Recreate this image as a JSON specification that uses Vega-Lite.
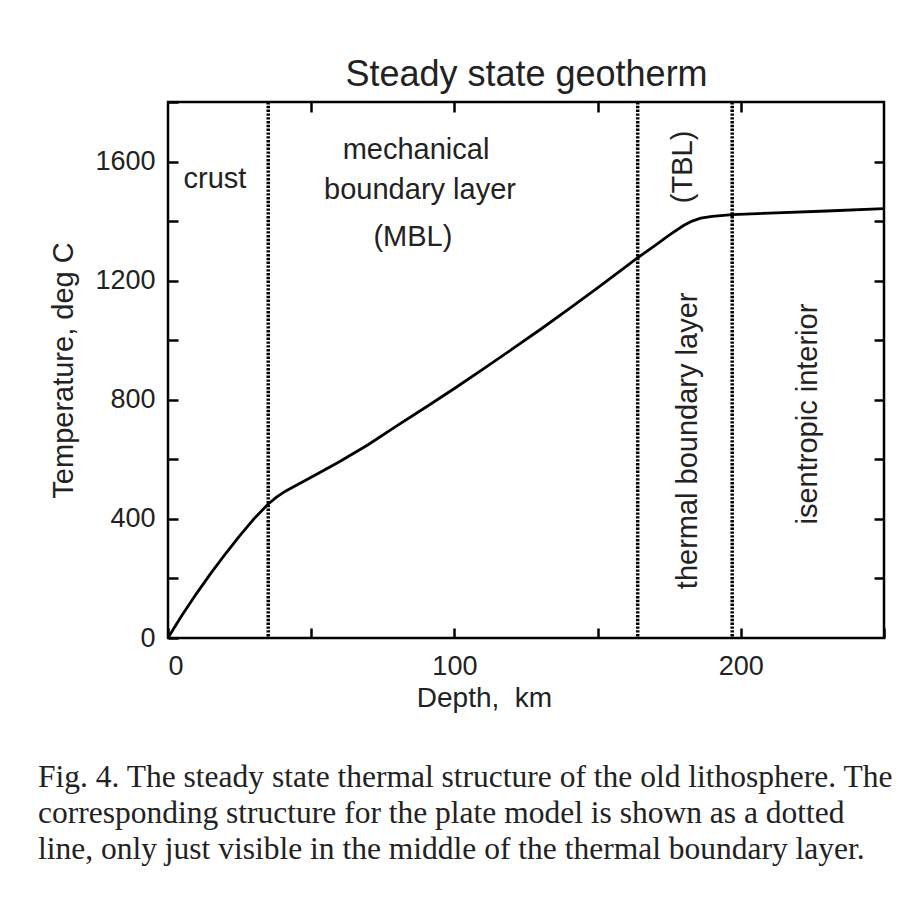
{
  "$schema": "https://vega.github.io/schema/vega-lite/v6.json",
  "width": 716,
  "height": 536,
  "autosize": {"type": "none"},
  "padding": {"left": 168, "top": 102, "right": 19, "bottom": 268},
  "background": "white",
  "config": {
    "view": {"stroke": "black", "strokeWidth": 2.5},
    "font": "Liberation Sans",
    "axis": {"grid": false, "domain": false, "tickColor": "black", "tickWidth": 2.5, "tickSize": -10, "labelColor": "#222", "labelFontSize": 27, "titleColor": "#222", "titleFontWeight": "normal", "labelFont": "Liberation Sans", "titleFont": "Liberation Sans"}
  },
  "title": {
    "text": ["Fig. 4. The steady state thermal structure of the old lithosphere. The", "corresponding structure for the plate model is shown as a dotted", "line, only just visible in the middle of the thermal boundary layer."],
    "orient": "bottom",
    "anchor": "start",
    "frame": "group",
    "font": "Liberation Serif",
    "fontSize": 31.5,
    "fontWeight": "normal",
    "color": "#222",
    "lineHeight": 36,
    "dx": -130,
    "offset": 50
  },
  "datasets": {
    "geotherm": [
      {"depth": 0, "temp": 0},
      {"depth": 2, "temp": 32},
      {"depth": 5, "temp": 78},
      {"depth": 10, "temp": 150},
      {"depth": 15, "temp": 218},
      {"depth": 20, "temp": 282},
      {"depth": 25, "temp": 343},
      {"depth": 30, "temp": 400},
      {"depth": 35, "temp": 450},
      {"depth": 38, "temp": 474},
      {"depth": 41, "temp": 493},
      {"depth": 45, "temp": 514},
      {"depth": 50, "temp": 540},
      {"depth": 60, "temp": 593},
      {"depth": 70, "temp": 650},
      {"depth": 80, "temp": 713},
      {"depth": 90, "temp": 775},
      {"depth": 100, "temp": 838},
      {"depth": 110, "temp": 903},
      {"depth": 120, "temp": 969},
      {"depth": 130, "temp": 1036},
      {"depth": 140, "temp": 1105},
      {"depth": 150, "temp": 1176},
      {"depth": 160, "temp": 1248},
      {"depth": 164, "temp": 1277},
      {"depth": 170, "temp": 1318},
      {"depth": 175, "temp": 1353},
      {"depth": 180, "temp": 1385},
      {"depth": 183, "temp": 1400},
      {"depth": 186, "temp": 1410},
      {"depth": 190, "temp": 1416},
      {"depth": 197, "temp": 1422},
      {"depth": 210, "temp": 1427},
      {"depth": 230, "temp": 1434},
      {"depth": 250, "temp": 1442}
    ],
    "bounds": [{"depth": 35}, {"depth": 164}, {"depth": 197}],
    "labels": [
      {"depth": 16.4, "temp": 1540, "label": "crust"},
      {"depth": 86.6, "temp": 1640, "label": "mechanical"},
      {"depth": 88, "temp": 1506, "label": "boundary layer"},
      {"depth": 85.5, "temp": 1348, "label": "(MBL)"}
    ],
    "vlabels": [
      {"depth": 179.8, "temp": 1582, "label": "(TBL)"},
      {"depth": 181.6, "temp": 662, "label": "thermal boundary layer"},
      {"depth": 223.5, "temp": 752, "label": "isentropic interior"}
    ]
  },
  "resolve": {"axis": {"x": "independent", "y": "independent"}},
  "layer": [
    {
      "data": {"name": "bounds"},
      "mark": {"type": "rule", "color": "black", "strokeWidth": 3.5, "strokeDash": [2.4, 1.4]},
      "encoding": {
        "x": {"field": "depth", "type": "quantitative", "scale": {"domain": [0, 250], "nice": false}, "axis": null}
      }
    },
    {
      "data": {"name": "geotherm"},
      "mark": {"type": "line", "color": "black", "strokeWidth": 2.8},
      "encoding": {
        "x": {"field": "depth", "type": "quantitative", "scale": {"domain": [0, 250], "nice": false},
          "axis": {"orient": "bottom", "values": [0, 50, 100, 150, 200, 250], "labelExpr": "datum.value % 100 === 0 ? '' + datum.value : ''", "labelPadding": 25, "title": "Depth,\u00a0\u00a0km", "titleFontSize": 28, "titleX": 316, "titleY": 68, "titleBaseline": "alphabetic"}},
        "y": {"field": "temp", "type": "quantitative", "scale": {"domain": [0, 1800], "nice": false},
          "axis": {"orient": "left", "values": [0, 200, 400, 600, 800, 1000, 1200, 1400, 1600, 1800], "labelExpr": "datum.value % 400 === 0 && datum.value < 1800 ? '' + datum.value : ''", "labelPadding": 23, "title": "Temperature, deg C", "titleFontSize": 29, "titleX": -105, "titleY": 268, "titleAngle": -90, "titleAlign": "center", "titleBaseline": "middle"}}
      }
    },
    {
      "data": {"name": "labels"},
      "mark": {"type": "text", "fontSize": 29, "color": "#222", "align": "center", "baseline": "middle"},
      "encoding": {
        "x": {"field": "depth", "type": "quantitative", "scale": {"domain": [0, 250], "nice": false},
          "axis": {"orient": "top", "values": [50, 100, 150, 200], "labels": false, "title": "Steady state geotherm", "titleFontSize": 36, "titleY": -17, "titleBaseline": "alphabetic"}},
        "y": {"field": "temp", "type": "quantitative", "scale": {"domain": [0, 1800], "nice": false},
          "axis": {"orient": "right", "values": [200, 400, 600, 800, 1000, 1200, 1400, 1600], "labels": false, "title": null}},
        "text": {"field": "label"}
      }
    },
    {
      "data": {"name": "vlabels"},
      "mark": {"type": "text", "fontSize": 29, "color": "#222", "align": "center", "baseline": "middle", "angle": 270},
      "encoding": {
        "x": {"field": "depth", "type": "quantitative", "scale": {"domain": [0, 250], "nice": false}, "axis": null},
        "y": {"field": "temp", "type": "quantitative", "scale": {"domain": [0, 1800], "nice": false}, "axis": null},
        "text": {"field": "label"}
      }
    }
  ]
}
